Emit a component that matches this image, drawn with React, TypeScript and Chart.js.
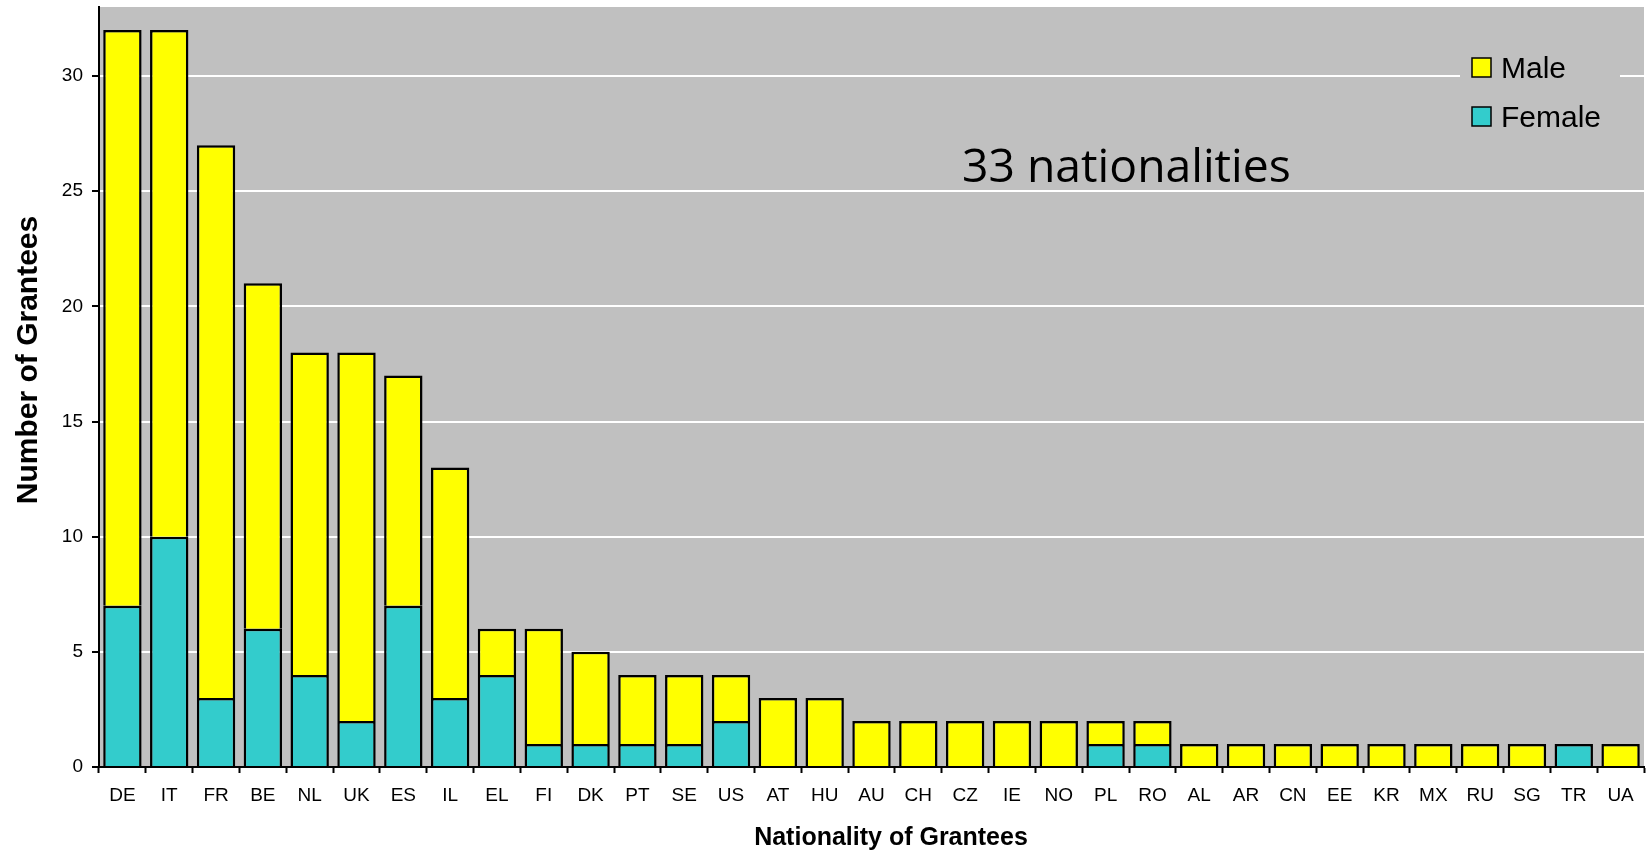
import { useEffect, useRef } from "react";
import { Chart, registerables } from "chart.js";
import type { ChartConfiguration, Plugin } from "chart.js";

Chart.register(...registerables);

const COUNTRIES = [
  "DE", "IT", "FR", "BE", "NL", "UK", "ES", "IL", "EL", "FI", "DK", "PT", "SE", "US", "AT", "HU", "AU",
  "CH", "CZ", "IE", "NO", "PL", "RO", "AL", "AR", "CN", "EE", "KR", "MX", "RU", "SG", "TR", "UA",
];
const FEMALE = [7, 10, 3, 6, 4, 2, 7, 3, 4, 1, 1, 1, 1, 2, 0, 0, 0, 0, 0, 0, 0, 1, 1, 0, 0, 0, 0, 0, 0, 0, 0, 1, 0];
const MALE = [25, 22, 24, 15, 14, 16, 10, 10, 2, 5, 4, 3, 3, 2, 3, 3, 2, 2, 2, 2, 2, 1, 1, 1, 1, 1, 1, 1, 1, 1, 1, 0, 1];

const Y_MAX = 33;
const Y_STEP = 5;

const PLOT_BG = "#C0C0C0";
const MALE_COLOR = "#FFFF00";
const FEMALE_COLOR = "#33CCCC";
const ARIAL = "'Liberation Sans', Arial, sans-serif";

// gray plot background, legend box, note text and axis titles
const decorations: Plugin<"bar"> = {
  id: "decorations",
  beforeDraw(chart) {
    const { ctx, chartArea: a } = chart;
    ctx.save();
    ctx.fillStyle = PLOT_BG;
    ctx.fillRect(a.left, a.top, a.right - a.left, a.bottom - a.top);
    ctx.restore();
  },
  afterDraw(chart) {
    const { ctx, chartArea: a } = chart;
    ctx.save();

    // legend
    const lx = a.right - 184;
    ctx.fillStyle = PLOT_BG;
    ctx.fillRect(lx, a.top + 35, 160, 110);
    const items = [
      { label: "Male", color: MALE_COLOR, y: a.top + 51 },
      { label: "Female", color: FEMALE_COLOR, y: a.top + 100 },
    ];
    ctx.font = `30px ${ARIAL}`;
    ctx.textBaseline = "alphabetic";
    ctx.textAlign = "left";
    items.forEach((it) => {
      ctx.fillStyle = it.color;
      ctx.fillRect(a.right - 172, it.y, 19, 19);
      ctx.strokeStyle = "#000";
      ctx.lineWidth = 1.5;
      ctx.strokeRect(a.right - 172, it.y, 19, 19);
      ctx.fillStyle = "#000";
      ctx.fillText(it.label, a.right - 143, it.y + 20);
    });

    // note
    const note = "33 nationalities";
    ctx.font = `40px 'Open Sans', sans-serif`;
    const w = ctx.measureText(note).width;
    const size = (40 * 329) / w;
    ctx.font = `${size}px 'Open Sans', sans-serif`;
    ctx.fillText(note, 962, 182);

    // axis titles
    ctx.font = `bold 25px ${ARIAL}`;
    ctx.textAlign = "center";
    ctx.fillText("Nationality of Grantees", 891, 845);

    ctx.translate(37, 360);
    ctx.rotate(-Math.PI / 2);
    ctx.font = `bold 30px ${ARIAL}`;
    ctx.fillText("Number of Grantees", 0, 0);

    ctx.restore();
  },
};

export default function App() {
  const canvasRef = useRef<HTMLCanvasElement | null>(null);
  const chartRef = useRef<Chart<"bar", number[], string> | null>(null);

  useEffect(() => {
    if (!canvasRef.current) return;
    chartRef.current?.destroy();

    const config: ChartConfiguration<"bar", number[], string> = {
      type: "bar",
      data: {
        labels: COUNTRIES,
        datasets: [
          {
            label: "Female",
            data: FEMALE,
            backgroundColor: FEMALE_COLOR,
            borderColor: "#000",
            borderWidth: 2.5,
          },
          {
            label: "Male",
            data: MALE,
            backgroundColor: MALE_COLOR,
            borderColor: "#000",
            borderWidth: 2.5,
          },
        ],
      },
      options: {
        responsive: true,
        maintainAspectRatio: false,
        animation: false,
        layout: { padding: { top: 7, right: 2, left: 0, bottom: 0 } },
        datasets: { bar: { barPercentage: 0.82, categoryPercentage: 1 } },
        plugins: {
          legend: { display: false },
          tooltip: { enabled: false },
        },
        scales: {
          x: {
            stacked: true,
            afterFit: (s) => {
              s.height = 87;
              s.paddingLeft = 0;
              s.paddingRight = 0;
            },
            grid: {
              display: true,
              drawOnChartArea: false,
              offset: true,
              tickLength: 6,
              tickColor: "#000",
              tickWidth: 2,
            },
            border: { color: "#000", width: 2 },
            ticks: {
              color: "#000",
              font: { family: ARIAL, size: 19 },
              padding: 11,
              autoSkip: false,
              maxRotation: 0,
            },
          },
          y: {
            stacked: true,
            min: 0,
            max: Y_MAX,
            afterFit: (s) => {
              s.width = 99;
              s.paddingTop = 0;
              s.paddingBottom = 0;
            },
            grid: {
              color: "#FFFFFF",
              lineWidth: 2,
              tickColor: "#000",
              tickLength: 7,
              tickWidth: 2,
            },
            border: { color: "#000", width: 2 },
            ticks: {
              stepSize: Y_STEP,
              includeBounds: false,
              color: "#000",
              font: { family: ARIAL, size: 19 },
              padding: 9,
            },
          },
        },
      },
      plugins: [decorations],
    };

    chartRef.current = new Chart(canvasRef.current, config);
    return () => chartRef.current?.destroy();
  }, []);

  return (
    <div
      style={{
        position: "absolute",
        left: 0,
        top: 0,
        width: 1646,
        height: 854,
        background: "#fff",
      }}
    >
      <canvas ref={canvasRef} />
    </div>
  );
}
